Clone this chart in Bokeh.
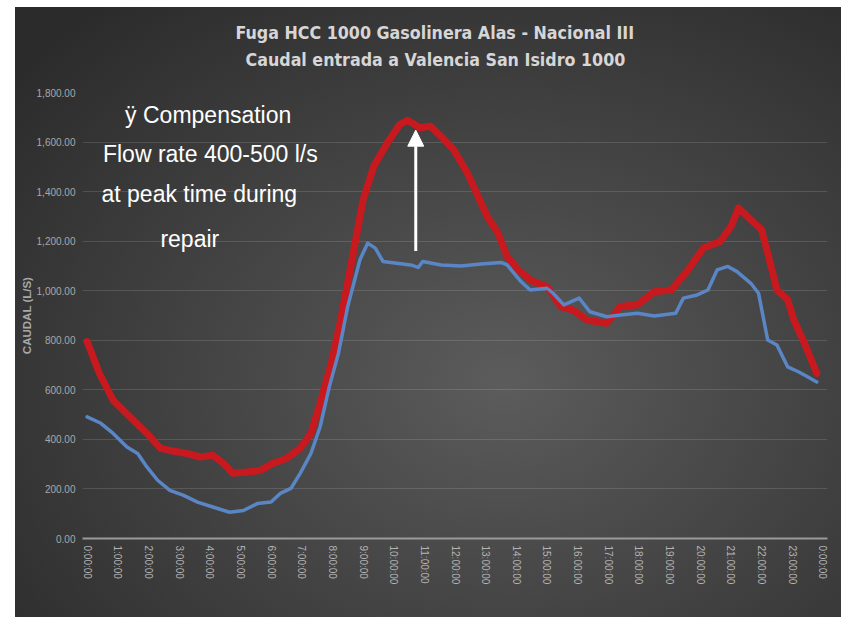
from bokeh.plotting import figure
from bokeh.models import (Range1d, FixedTicker, NumeralTickFormatter, Label,
                          Arrow, NormalHead, ColumnDataSource, Title)
from bokeh.embed import file_html
from bokeh.resources import INLINE

# ---------------- data ----------------
title_lines = ["Fuga HCC 1000 Gasolinera Alas - Nacional III",
               "Caudal entrada a Valencia San Isidro 1000"]
y_axis_title = "CAUDAL (L/S)"

hour_ticks = list(range(25))
hour_labels = [f"{h}:00:00" for h in range(24)] + ["0:00:00"]
y_ticks = list(range(0, 1801, 200))

# red series: flow with compensation (hours, l/s)
red_hours = [0.0, 0.4, 0.85, 1.4, 1.95, 2.4, 2.8, 3.25, 3.7, 4.1, 4.45, 4.75,
             5.2, 5.65, 6.05, 6.5, 6.95, 7.3, 7.6, 7.95, 8.25, 8.7, 9.0, 9.35,
             9.8, 10.2, 10.45, 10.85, 11.2, 11.55, 11.95, 12.4, 12.75, 13.05,
             13.4, 13.7, 14.1, 14.5, 15.0, 15.45, 15.85, 16.3, 16.95, 17.4,
             17.95, 18.5, 19.05, 19.6, 20.1, 20.65, 21.0, 21.25, 21.65, 22.0,
             22.2, 22.5, 22.85, 23.05, 23.4, 23.8]
red_vals = [795, 667, 558, 490, 424, 364, 353, 343, 329, 336, 303, 263,
            268, 275, 303, 323, 364, 424, 546, 700, 870, 1165, 1367, 1502,
            1598, 1671, 1688, 1658, 1664, 1623, 1570, 1476, 1381, 1300,
            1233, 1138, 1080, 1040, 1017, 936, 922, 882, 869, 936,
            943, 996, 1003, 1084, 1172, 1199, 1259, 1334, 1286, 1246,
            1152, 1003, 963, 882, 788, 666]

# blue series: normal flow (hours, l/s)
blue_hours = [0.0, 0.45, 0.85, 1.3, 1.65, 1.95, 2.3, 2.7, 3.15, 3.6, 4.1, 4.65,
              5.1, 5.55, 6.0, 6.3, 6.65, 6.95, 7.3, 7.6, 7.9, 8.2, 8.5, 8.9,
              9.15, 9.4, 9.65, 10.1, 10.55, 10.8, 10.95, 11.55, 12.2, 12.85,
              13.5, 13.7, 14.15, 14.45, 15.0, 15.2, 15.55, 16.05, 16.4, 16.95,
              17.4, 17.95, 18.5, 19.2, 19.45, 19.9, 20.25, 20.55, 20.9, 21.2,
              21.65, 21.9, 22.2, 22.5, 22.85, 23.2, 23.5, 23.8]
blue_vals = [491, 465, 424, 369, 343, 289, 235, 194, 174, 147, 127, 106,
             113, 141, 147, 182, 202, 263, 343, 450, 612, 748, 936, 1125,
             1192, 1172, 1118, 1111, 1104, 1094, 1118, 1104, 1100, 1108,
             1114, 1104, 1037, 1003, 1010, 990, 943, 970, 915, 895,
             902, 909, 898, 909, 970, 983, 1003, 1084, 1098, 1077,
             1030, 990, 801, 781, 693, 673, 653, 632]

note_lines = ["\u00ff Compensation", "Flow rate 400-500 l/s",
              "at peak time during", "repair"]
note_x = [3.95, 4.02, 3.66, 3.35]
note_y = [1711, 1551, 1389, 1208]

arrow_x = 10.72
arrow_y0 = 1160
arrow_y1 = 1648

# ---------------- figure ----------------
p = figure(width=841, height=617, output_backend="svg", toolbar_location=None,
           x_range=Range1d(-0.15, 24.15), y_range=Range1d(0, 1800),
           min_border_left=82, min_border_right=14, min_border_top=92,
           min_border_bottom=79)
p.border_fill_color = None
p.background_fill_color = None
p.outline_line_color = None
p.styles = {"background": "linear-gradient(to bottom, #ffffff 7px, transparent 7px), "
                          "linear-gradient(to right, #ffffff 15px, transparent 15px), "
                          "radial-gradient(ellipse 75% 80% at 60% 62%, #5c5c5c 0%, #4a4a4a 35%, #2b2b2b 100%)"}

# titles (second line added first so it sits closest to the plot)
title_font = "Liberation Sans Narrow, DejaVu Sans Condensed"
p.add_layout(Title(text=title_lines[1], align="left", offset=163, standoff=45,
                   text_color="#d6d6d6", text_font=title_font,
                   text_font_style="bold", text_font_size="17.7px"), "above")
p.add_layout(Title(text=title_lines[0], align="left", offset=153, standoff=-34,
                   text_color="#d6d6d6", text_font=title_font,
                   text_font_style="bold", text_font_size="17.7px"), "above")

# grid
p.xgrid.grid_line_color = None
p.ygrid.grid_line_color = "#ffffff"
p.ygrid.grid_line_alpha = 0.13
p.ygrid.grid_line_width = 1

# x axis
p.xaxis.ticker = FixedTicker(ticks=hour_ticks)
p.xaxis.major_label_overrides = {t: lab for t, lab in zip(hour_ticks, hour_labels)}
p.xaxis.major_label_orientation = "vertical"
p.xaxis.axis_line_color = "#9a9a9a"
p.xaxis.axis_line_width = 2
p.xaxis.major_tick_line_color = None
p.xaxis.minor_tick_line_color = None
p.xaxis.major_tick_out = 0
p.xaxis.minor_tick_out = 0
p.xaxis.major_label_standoff = 7
p.xaxis.major_label_text_font = "Liberation Sans"
p.xaxis.major_label_text_font_size = "10px"
p.xaxis.major_label_text_color = "#b4b4b4"

# y axis
p.yaxis.ticker = FixedTicker(ticks=y_ticks)
p.yaxis.formatter = NumeralTickFormatter(format="0,0.00")
p.yaxis.axis_line_color = None
p.yaxis.major_tick_line_color = None
p.yaxis.minor_tick_line_color = None
p.yaxis.major_tick_out = 0
p.yaxis.minor_tick_out = 0
p.yaxis.major_label_standoff = 7
p.yaxis.major_label_text_font = "Liberation Sans"
p.yaxis.major_label_text_font_size = "10px"
p.yaxis.major_label_text_color = "#a8a8a8"
p.yaxis.axis_label = y_axis_title
p.yaxis.axis_label_text_font = "Liberation Sans"
p.yaxis.axis_label_text_font_size = "11.5px"
p.yaxis.axis_label_text_font_style = "bold"
p.yaxis.axis_label_text_color = "#a8a8a8"
p.yaxis.axis_label_standoff = 1

# series
red_src = ColumnDataSource(dict(x=red_hours, y=red_vals))
blue_src = ColumnDataSource(dict(x=blue_hours, y=blue_vals))
p.line("x", "y", source=red_src, line_color="#c8191f", line_width=7,
       line_join="round", line_cap="round")
p.line("x", "y", source=blue_src, line_color="#5a86c6", line_width=3.5,
       line_join="round", line_cap="round")

# arrow
p.add_layout(Arrow(end=NormalHead(size=16, fill_color="white", line_color="white"),
                   x_start=arrow_x, y_start=arrow_y0, x_end=arrow_x, y_end=arrow_y1,
                   line_color="white", line_width=3))

# note text
for txt, nx, ny in zip(note_lines, note_x, note_y):
    p.add_layout(Label(x=nx, y=ny, text=txt, text_align="center",
                       text_baseline="alphabetic", text_color="#ffffff",
                       text_font="Liberation Sans", text_font_size="23px"))

open("out.html", "w").write(file_html(p, INLINE))
